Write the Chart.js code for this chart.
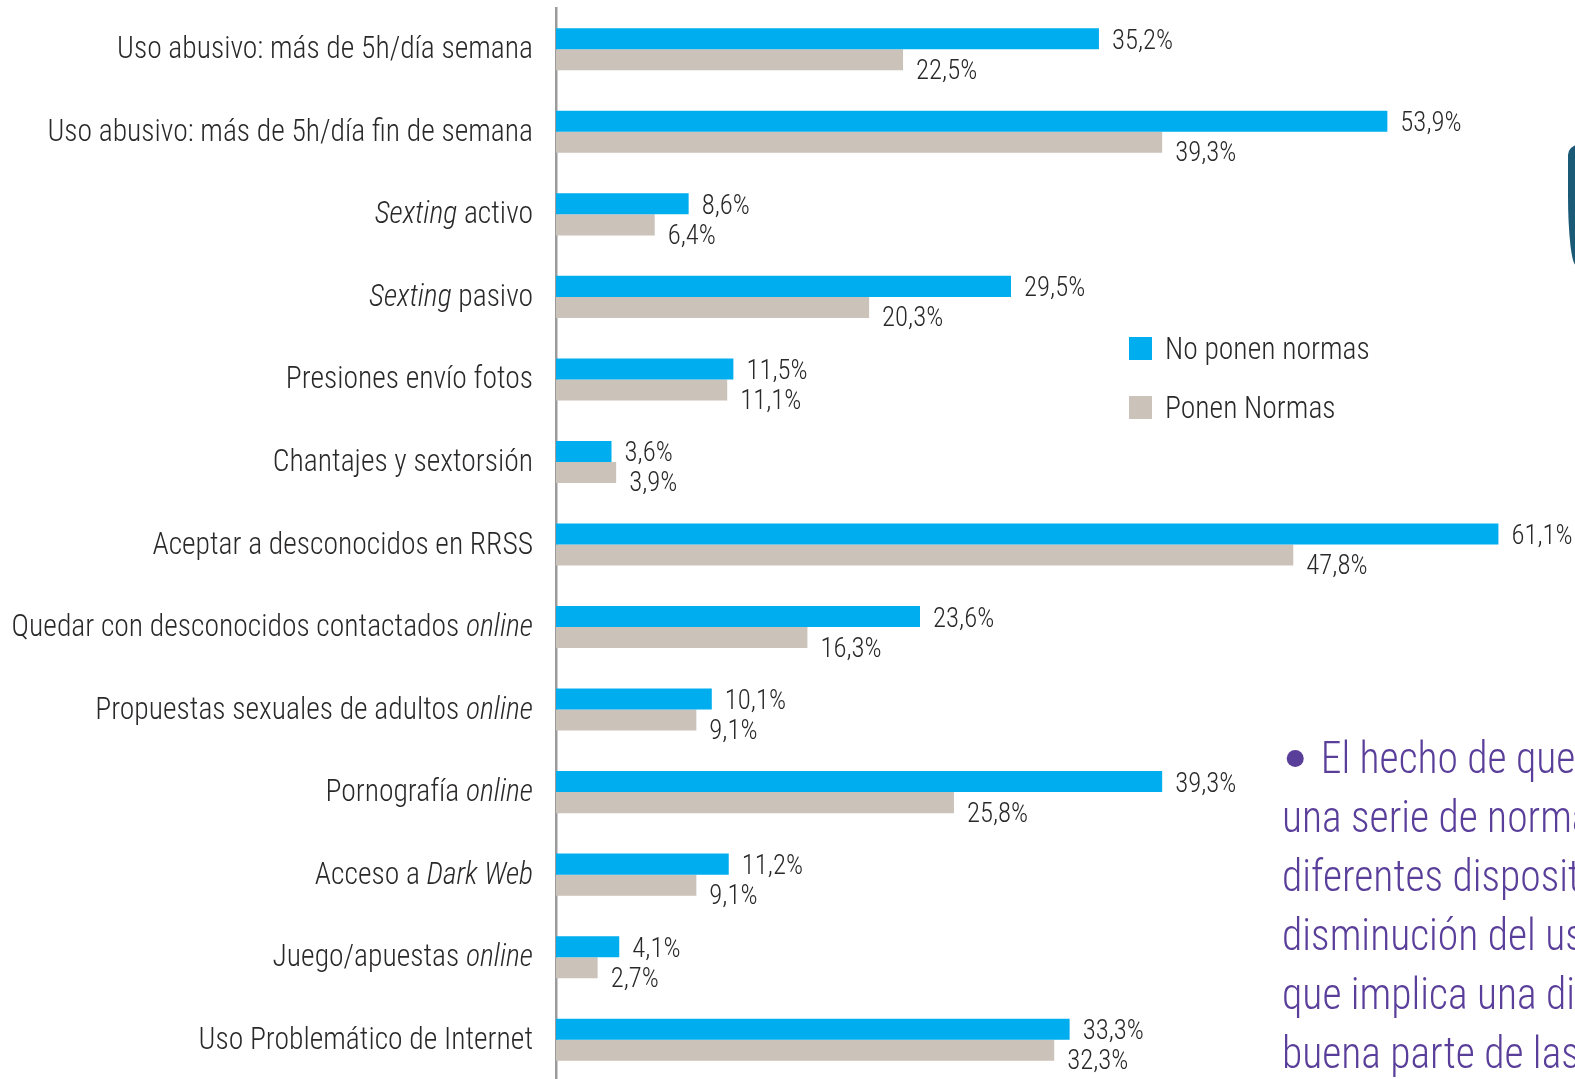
<!DOCTYPE html>
<html>
<head>
<meta charset="utf-8">
<script src="https://cdn.jsdelivr.net/npm/chart.js@4.4.0/dist/chart.umd.min.js"></script>
<style>
  html, body { margin: 0; padding: 0; background: #fff; overflow: hidden; }
  #wrap { position: relative; width: 1575px; height: 1079px; overflow: hidden; }
  #chart { position: absolute; left: 0; top: 0; }
  #tab { position: absolute; left: 1568px; top: 145px; width: 30px; height: 120px; background: #1a5a77;
         border-top-left-radius: 10px; border-bottom-left-radius: 8px 70px; }
  #note { position: absolute; left: 1282px; top: 729px; font: 300 44px "Roboto Condensed", sans-serif;
          line-height: 59px; color: #5a3f9a; white-space: nowrap; transform: scaleX(0.945); transform-origin: 0 0; }
  #note .dot { display: inline-block; width: 18px; height: 17px; border-radius: 50%; background: #5a3f9a;
               margin: 0 18px 0 5px; vertical-align: 6px; }
</style>
</head>
<body>
<div id="wrap">
  <canvas id="chart" width="1575" height="1081"></canvas>
  <div id="tab"></div>
  <div id="note">
    <div><span class="dot"></span>El hecho de que</div>
    <div>una serie de normas</div>
    <div>diferentes dispositivos</div>
    <div>disminución del uso</div>
    <div>que implica una disminución</div>
    <div>buena parte de las</div>
  </div>
</div>
<script>
// *word* marks the italic part of a label
const categories = [
  'Uso abusivo: más de 5h/día semana',
  'Uso abusivo: más de 5h/día fin de semana',
  '*Sexting* activo',
  '*Sexting* pasivo',
  'Presiones envío fotos',
  'Chantajes y sextorsión',
  'Aceptar a desconocidos en RRSS',
  'Quedar con desconocidos contactados *online*',
  'Propuestas sexuales de adultos *online*',
  'Pornografía *online*',
  'Acceso a *Dark Web*',
  'Juego/apuestas *online*',
  'Uso Problemático de Internet'
];
const noPonen = [35.2, 53.9, 8.6, 29.5, 11.5, 3.6, 61.1, 23.6, 10.1, 39.3, 11.2, 4.1, 33.3];
const ponen = [22.5, 39.3, 6.4, 20.3, 11.1, 3.9, 47.8, 16.3, 9.1, 25.8, 9.1, 2.7, 32.3];
const seriesNames = ['No ponen normas', 'Ponen Normas'];

const FONT = '"Roboto Condensed", sans-serif';
const SX = 0.955; // squeeze the condensed face a little more
const textColor = '#2a2829';

function fmt(v) {
  return v.toFixed(1).replace('.', ',') + '%';
}

function textWidth(ctx, str, font) {
  ctx.font = font;
  return ctx.measureText(str).width * SX;
}

function drawText(ctx, str, x, y, font) {
  ctx.save();
  ctx.font = font;
  ctx.translate(x, y);
  ctx.scale(SX, 1);
  ctx.fillText(str, 0, 0);
  ctx.restore();
}

const labelPlugin = {
  id: 'labels',
  afterDatasetsDraw(chart) {
    const ctx = chart.ctx;
    const yScale = chart.scales.y;
    const left = chart.chartArea.left;
    ctx.save();
    ctx.fillStyle = textColor;
    ctx.textBaseline = 'alphabetic';
    ctx.textAlign = 'left';

    // category labels, right aligned against the axis
    categories.forEach((cat, i) => {
      const cy = yScale.getPixelForValue(i);
      const parts = cat.split('*');
      const fonts = parts.map((p, k) => (k % 2 ? 'italic ' : '') + '300 31px ' + FONT);
      const widths = parts.map((p, k) => textWidth(ctx, p, fonts[k]));
      let x = left - 23 - widths.reduce((a, b) => a + b, 0);
      parts.forEach((p, k) => {
        drawText(ctx, p, x, cy + 9, fonts[k]);
        x += widths[k];
      });
    });

    // value labels at the end of each bar
    chart.data.datasets.forEach((ds, di) => {
      chart.getDatasetMeta(di).data.forEach((bar, i) => {
        drawText(ctx, fmt(ds.data[i]), bar.x + 13, bar.y + (di === 0 ? 10 : 19), '300 28px ' + FONT);
      });
    });

    // legend
    chart.data.datasets.forEach((ds, di) => {
      const ly = 348 + di * 59;
      ctx.fillStyle = ds.backgroundColor;
      ctx.fillRect(1129, ly - 11, 23, 23);
      ctx.fillStyle = textColor;
      drawText(ctx, ds.label, 1165, ly + 11, '300 31px ' + FONT);
    });
    ctx.restore();
  }
};

new Chart(document.getElementById('chart'), {
  type: 'bar',
  data: {
    labels: categories,
    datasets: [
      { label: seriesNames[0], data: noPonen, backgroundColor: '#00aeef' },
      { label: seriesNames[1], data: ponen, backgroundColor: '#cbc2ba' }
    ]
  },
  options: {
    indexAxis: 'y',
    responsive: false,
    animation: false,
    events: [],
    categoryPercentage: 0.51,
    barPercentage: 1,
    layout: { padding: { left: 548, right: 1, top: 8, bottom: 0 } },
    plugins: { legend: { display: false }, tooltip: { enabled: false } },
    scales: {
      x: { display: false, min: 0, max: 66 },
      y: {
        grid: { display: false },
        ticks: { display: false },
        border: { display: true, color: '#9b9b9b', width: 2.5 }
      }
    }
  },
  plugins: [labelPlugin]
});
</script>
</body>
</html>
